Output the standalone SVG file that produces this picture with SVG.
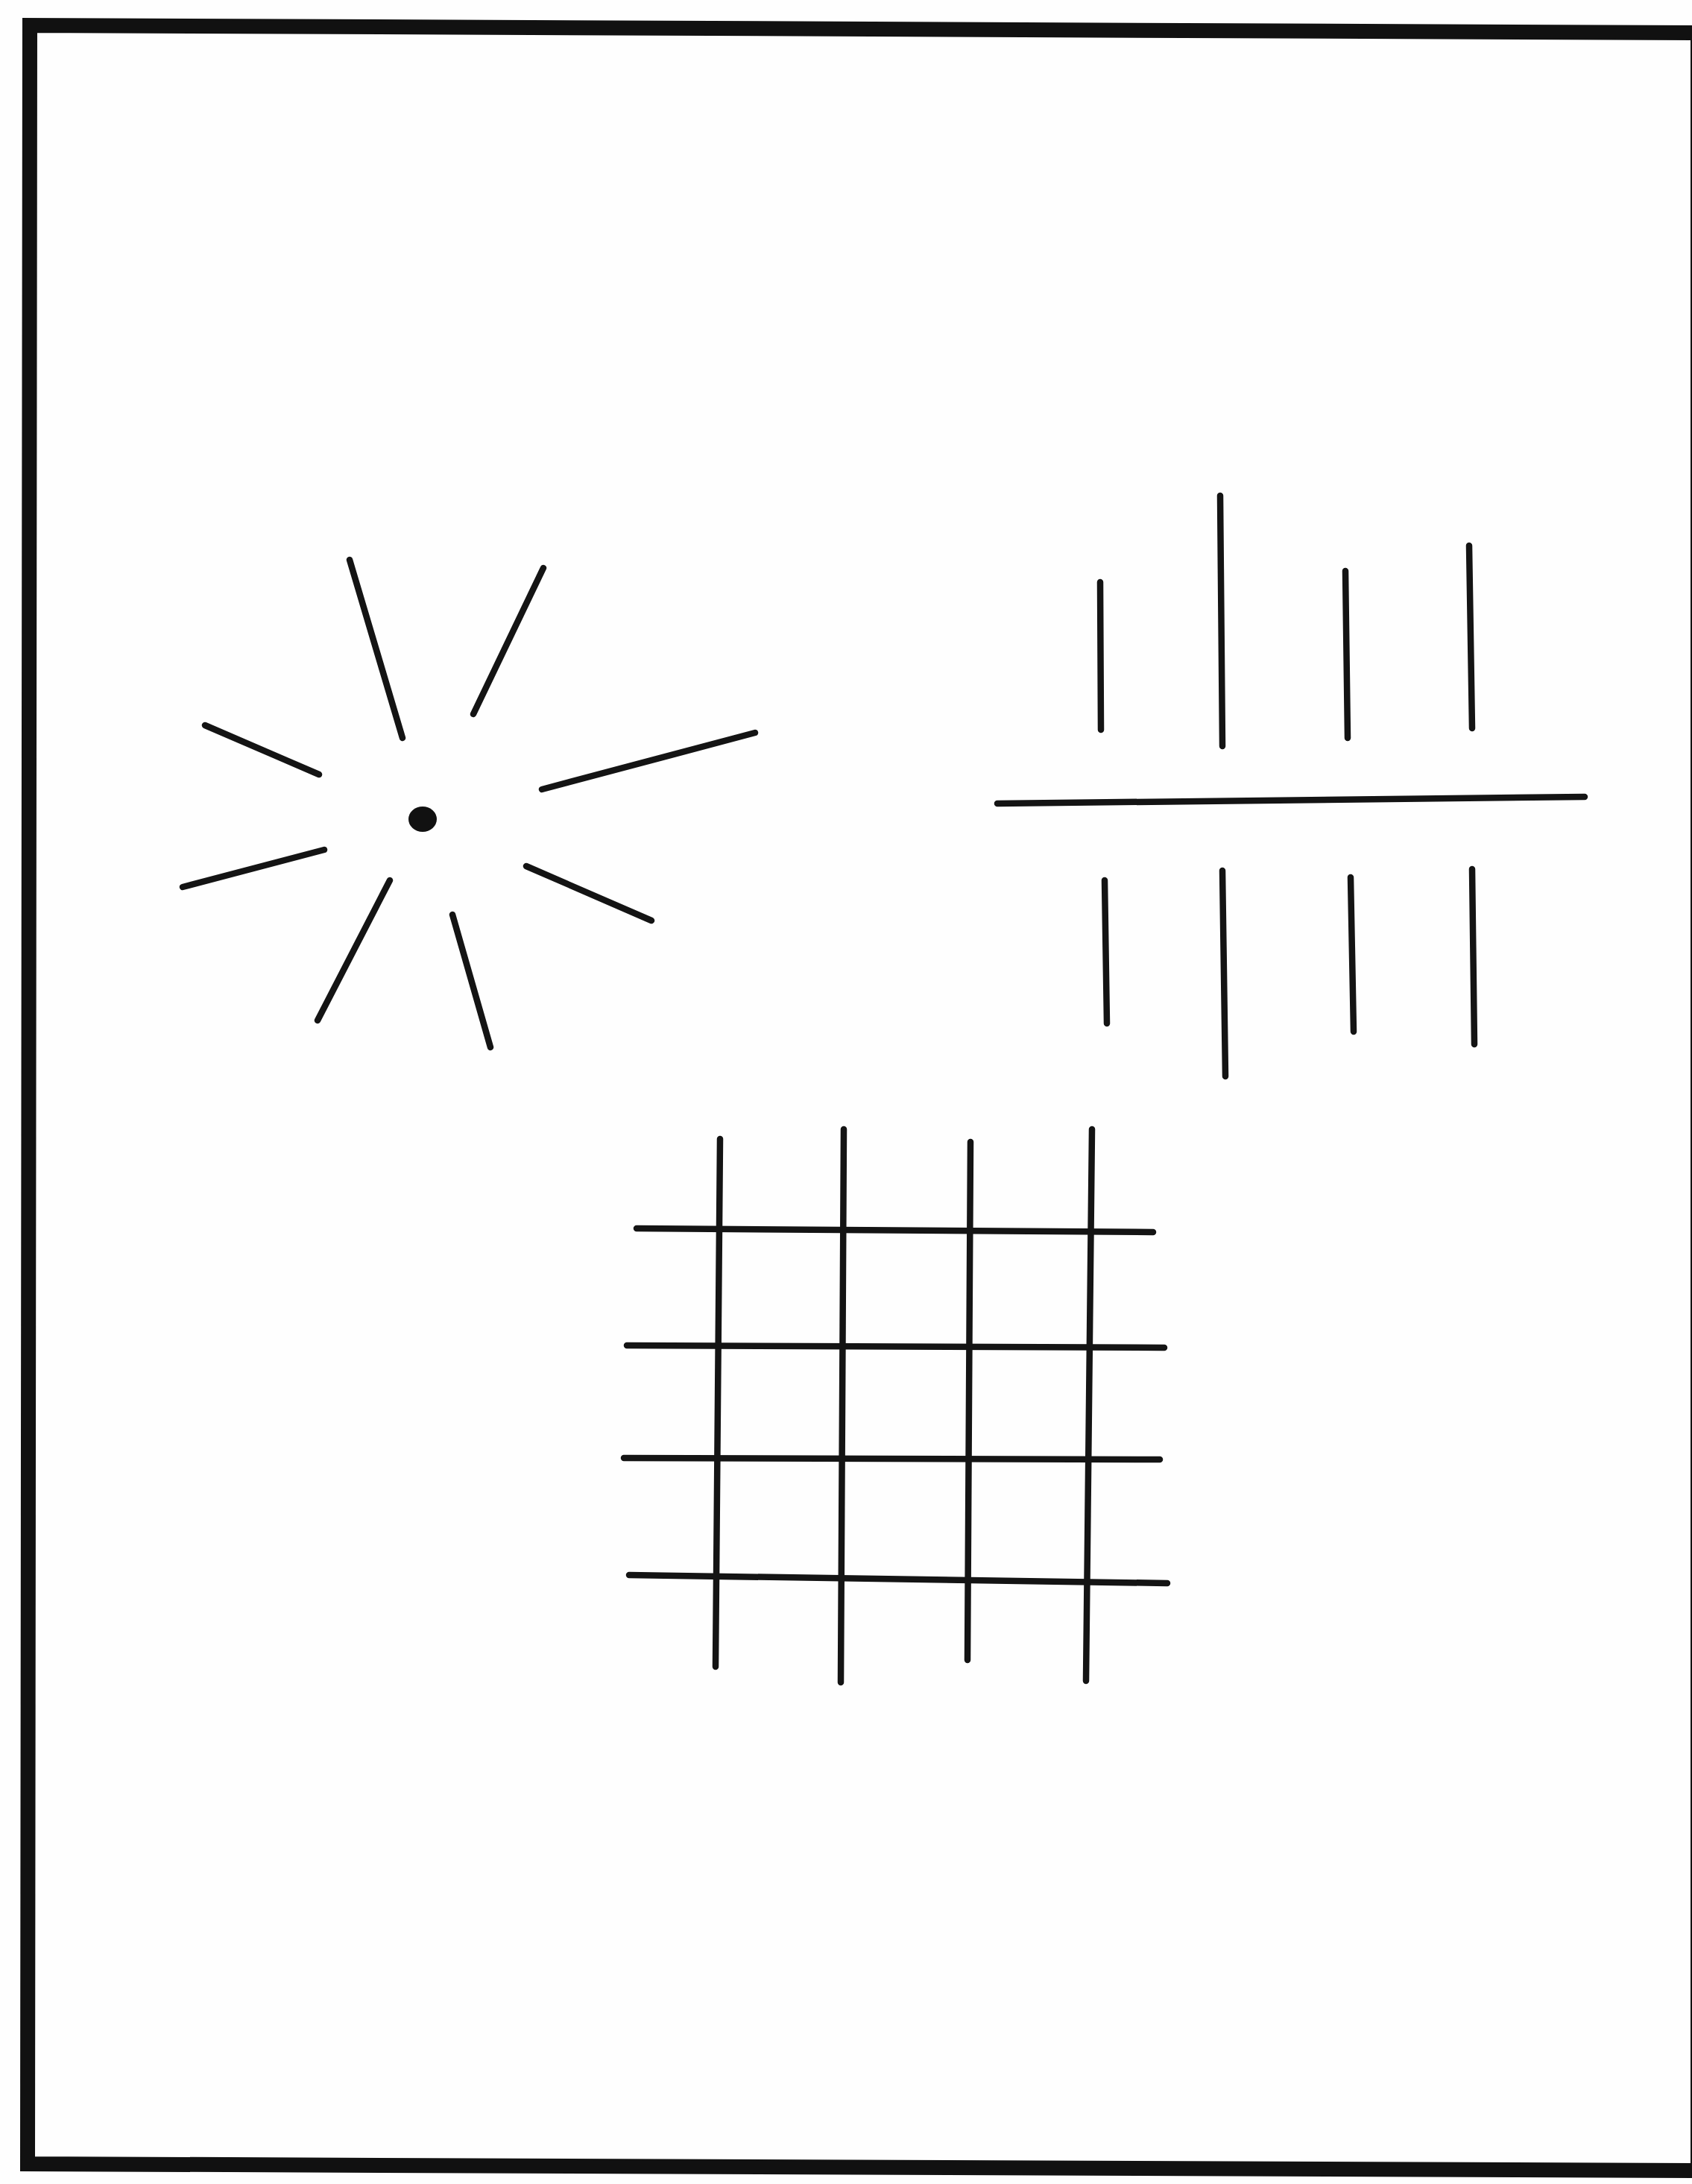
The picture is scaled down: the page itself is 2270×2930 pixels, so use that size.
<svg xmlns="http://www.w3.org/2000/svg" width="2270" height="2930" viewBox="0 0 2270 2930">
<style>
.ln{stroke:#141414;stroke-width:8.5;stroke-linecap:round;fill:none}
.frame{stroke:#111;stroke-width:20;fill:none;stroke-linejoin:miter}
</style>
<rect x="0" y="0" width="2270" height="2930" fill="#fefefe"/>
<g id="frame">
<path class="frame" d="M2278,44 L40,34 L37,2903 L2278,2912 Z"/>
</g>
<g id="star">
<ellipse cx="567" cy="1099" rx="19" ry="17" fill="#111"/>
<line class="ln" x1="469" y1="751" x2="540" y2="990"/>
<line class="ln" x1="729" y1="762" x2="635" y2="958"/>
<line class="ln" x1="275" y1="973" x2="428" y2="1039"/>
<line class="ln" x1="1013" y1="983" x2="727" y2="1059"/>
<line class="ln" x1="245" y1="1190" x2="435" y2="1140"/>
<line class="ln" x1="426" y1="1369" x2="523" y2="1181"/>
<line class="ln" x1="658" y1="1405" x2="607" y2="1227"/>
<line class="ln" x1="874" y1="1235" x2="706" y2="1162"/>
</g>
<g id="comb">
<line class="ln" x1="1338" y1="1078" x2="2126" y2="1069"/>
<line class="ln" x1="1476" y1="781" x2="1477" y2="979"/>
<line class="ln" x1="1637" y1="665" x2="1640" y2="1001"/>
<line class="ln" x1="1805" y1="766" x2="1808" y2="990"/>
<line class="ln" x1="1971" y1="732" x2="1975" y2="977"/>
<line class="ln" x1="1482" y1="1181" x2="1485" y2="1373"/>
<line class="ln" x1="1640" y1="1168" x2="1644" y2="1444"/>
<line class="ln" x1="1812" y1="1177" x2="1816" y2="1384"/>
<line class="ln" x1="1975" y1="1166" x2="1978" y2="1401"/>
</g>
<g id="grid">
<line class="ln" x1="854" y1="1648" x2="1547" y2="1653"/>
<line class="ln" x1="841" y1="1805" x2="1562" y2="1808"/>
<line class="ln" x1="837" y1="1956" x2="1556" y2="1958"/>
<line class="ln" x1="844" y1="2113" x2="1566" y2="2124"/>
<line class="ln" x1="966" y1="1528" x2="960" y2="2236"/>
<line class="ln" x1="1132" y1="1515" x2="1128" y2="2257"/>
<line class="ln" x1="1302" y1="1532" x2="1298" y2="2227"/>
<line class="ln" x1="1465" y1="1515" x2="1457" y2="2255"/>
</g>
</svg>
